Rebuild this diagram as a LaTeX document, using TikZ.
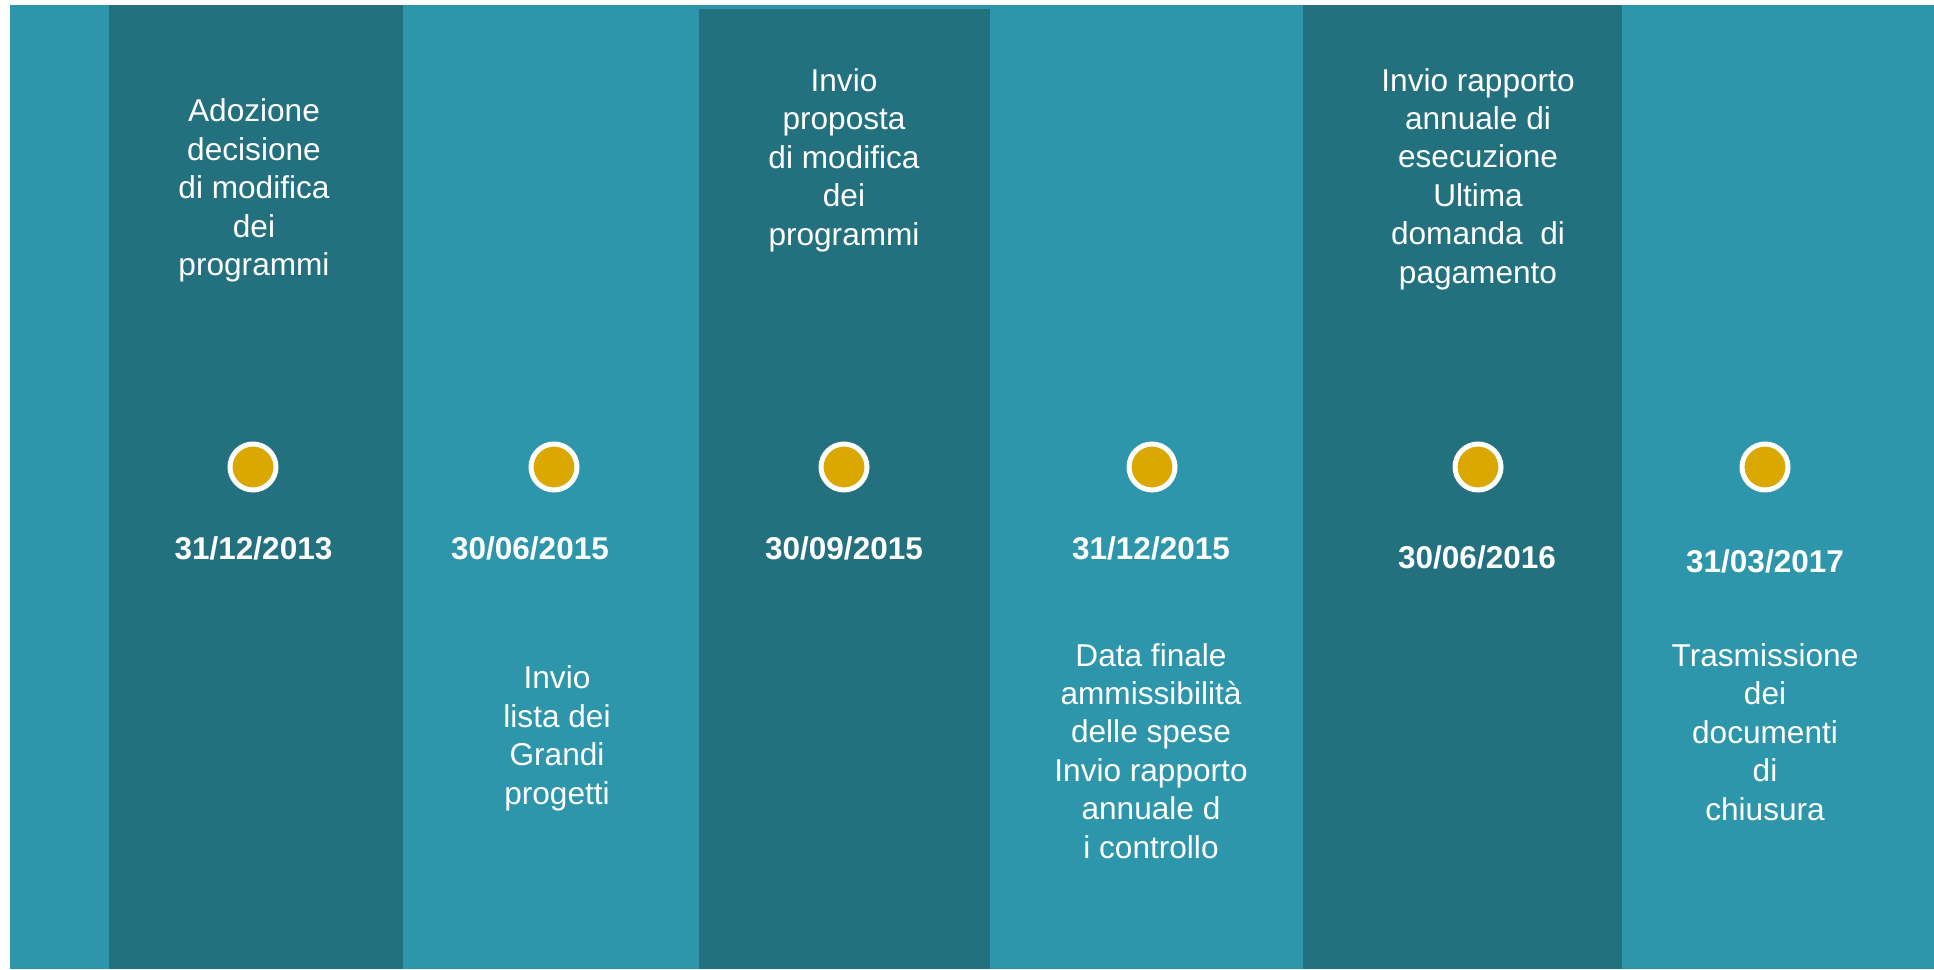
\documentclass[tikz,border=0pt]{standalone}
\usepackage{fontspec}
\setmainfont{Liberation Sans}
\definecolor{lightteal}{RGB}{46,150,170}
\definecolor{darkteal}{RGB}{35,113,127}
\definecolor{gold}{RGB}{218,168,0}
\begin{document}
\begin{tikzpicture}[x=1pt,y=-1pt,
  lbl/.style={text=white,align=center,inner sep=0pt,anchor=base,
    font=\fontsize{31.6}{38.4}\selectfont},
  datelbl/.style={text=white,inner sep=0pt,anchor=base,
    font=\fontsize{31.5}{37.8}\selectfont\bfseries},
  dot/.style={circle,fill=gold,draw=white,line width=5pt,minimum size=46pt,inner sep=0pt},
  colbox/.style={fill=darkteal,draw=none}]
\useasboundingbox (0,0) rectangle (1934,969);
\fill[white] (0,0) rectangle (1934,969);
\fill[lightteal] (10,5) rectangle (1934,969);
\fill[darkteal] (109,5) rectangle (403,969);
\fill[darkteal] (699,9) rectangle (990,969);
\fill[darkteal] (1303,5) rectangle (1622,969);

\node[dot] (c1) at (253,467) {};
\node[dot] (c2) at (554,467) {};
\node[dot] (c3) at (844,467) {};
\node[dot] (c4) at (1152,467) {};
\node[dot] (c5) at (1478,467) {};
\node[dot] (c6) at (1765,467) {};

\node[datelbl] (d1) at (253.5,559) {31/12/2013};
\node[datelbl] (d2) at (530,559) {30/06/2015};
\node[datelbl] (d3) at (844,559) {30/09/2015};
\node[datelbl] (d4) at (1151,559) {31/12/2015};
\node[datelbl] (d5) at (1477,568.5) {30/06/2016};
\node[datelbl] (d6) at (1765,572) {31/03/2017};

% base anchor = baseline of the last line
\node[lbl] (t1) at (254,275.5) {Adozione\\decisione\\di modifica\\dei\\programmi};
\node[lbl] (t2) at (557,804) {Invio\\lista dei\\Grandi\\progetti};
\node[lbl] (t3) at (844,245) {Invio\\proposta\\di modifica\\dei\\programmi};
\node[lbl] (t4) at (1151,858) {Data finale\\ammissibilità\\delle spese\\Invio rapporto\\annuale d\\i controllo};
\node[lbl] (t5) at (1478,283) {Invio rapporto\\annuale di\\esecuzione\\Ultima\\domanda~ di\\pagamento};
\node[lbl] (t6) at (1765,820) {Trasmissione\\dei\\documenti\\di\\chiusura};
\end{tikzpicture}
\end{document}
